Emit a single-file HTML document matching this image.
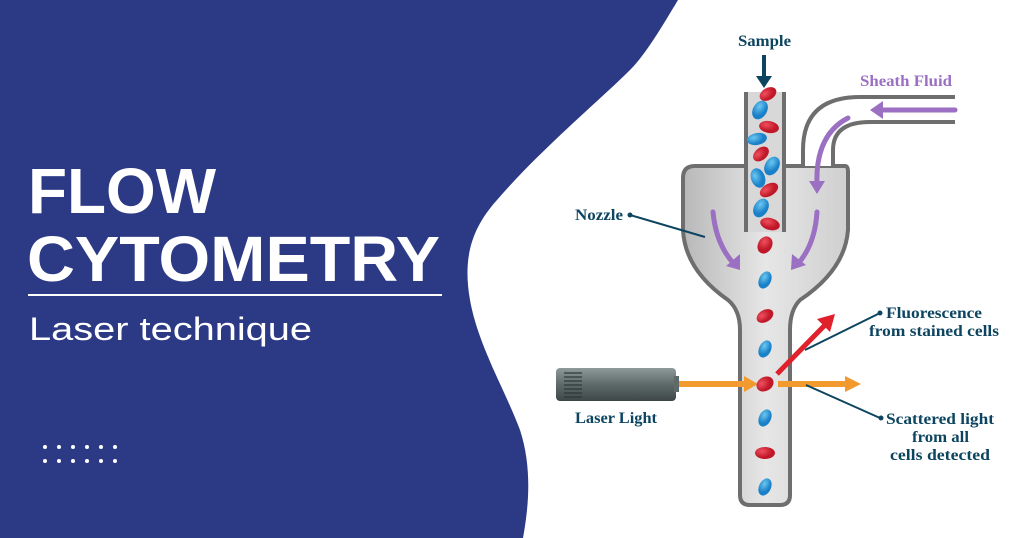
<!DOCTYPE html>
<html><head><meta charset="utf-8"><style>
html,body{margin:0;padding:0;width:1024px;height:538px;overflow:hidden;background:#fff}
svg{display:block}
.t{font-family:"Liberation Serif",serif;font-weight:bold;fill:#0d4560;font-size:15.5px}
.h{font-family:"Liberation Sans",sans-serif;font-weight:bold;fill:#fff}
</style></head><body>
<svg width="1024" height="538" viewBox="0 0 1024 538" xmlns="http://www.w3.org/2000/svg">
<defs>
<linearGradient id="g" x1="0" x2="1"><stop offset="0" stop-color="#b8b8b8"/><stop offset="0.5" stop-color="#e6e6e6"/><stop offset="1" stop-color="#cfcfcf"/></linearGradient>
<linearGradient id="las" x1="0" y1="0" x2="0" y2="1"><stop offset="0" stop-color="#8e9a9a"/><stop offset="0.5" stop-color="#5e6a6a"/><stop offset="1" stop-color="#3d4747"/></linearGradient>
<radialGradient id="r" cx="0.35" cy="0.35"><stop offset="0" stop-color="#f05060"/><stop offset="1" stop-color="#c01828"/></radialGradient>
<radialGradient id="b" cx="0.35" cy="0.35"><stop offset="0" stop-color="#6cc8f0"/><stop offset="1" stop-color="#1a80c8"/></radialGradient>
</defs>
<path d="M0 0 L678 0 C660 30 645 55 630 70 C600 100 540 150 497 200 C470 230 463 260 470 300 C478 345 505 390 520 430 C533 470 528 510 523 538 L0 538 Z" fill="#2c3a85"/>
<text class="h" x="28" y="213" font-size="64" textLength="188" lengthAdjust="spacingAndGlyphs">FLOW</text>
<text class="h" x="27" y="281" font-size="64" textLength="413" lengthAdjust="spacingAndGlyphs">CYTOMETRY</text>
<rect x="28" y="294" width="414" height="2" fill="#fff"/>
<text x="29" y="340" font-family="Liberation Sans,sans-serif" font-size="32" fill="#fff" textLength="283" lengthAdjust="spacingAndGlyphs">Laser technique</text>
<g fill="#fff">
<circle cx="45" cy="447" r="2"/><circle cx="59" cy="447" r="2"/><circle cx="73" cy="447" r="2"/><circle cx="87" cy="447" r="2"/><circle cx="101" cy="447" r="2"/><circle cx="115" cy="447" r="2"/>
<circle cx="45" cy="461" r="2"/><circle cx="59" cy="461" r="2"/><circle cx="73" cy="461" r="2"/><circle cx="87" cy="461" r="2"/><circle cx="101" cy="461" r="2"/><circle cx="115" cy="461" r="2"/>
</g>
<path d="M695 166 L845 166 Q848 166 848 172 L848 230 Q845 270 800 300 Q790 310 790 330 L790 495 Q790 505 780 505 L750 505 Q740 505 740 495 L740 330 Q740 310 728 300 Q685 270 683 230 L683 178 Q683 166 695 166 Z" fill="url(#g)" stroke="#6e6e6e" stroke-width="4"/>
<rect x="747" y="92" width="36" height="140" fill="#d8d8d8"/>
<line x1="746" y1="92" x2="746" y2="232" stroke="#6e6e6e" stroke-width="4"/>
<line x1="784" y1="92" x2="784" y2="232" stroke="#6e6e6e" stroke-width="4"/>
<path d="M803 166 L803 150 Q803 97 860 97 L955 97 L955 122 L870 122 Q833 122 833 150 L833 166 Z" fill="#fff"/>
<path d="M803 166 L803 150 Q803 97 860 97 L955 97" fill="none" stroke="#6e6e6e" stroke-width="4"/>
<path d="M833 166 L833 150 Q833 122 870 122 L955 122" fill="none" stroke="#6e6e6e" stroke-width="4"/>
<g stroke="#9b6fc2" stroke-width="5" fill="none" stroke-linecap="round">
<line x1="955" y1="110" x2="878" y2="110"/>
<path d="M848 118 Q815 135 817 185"/>
<path d="M713 212 Q716 245 735 265"/>
<path d="M817 212 Q815 245 797 265"/>
</g>
<g fill="#9b6fc2">
<path d="M870 110 L883 101 L883 119 Z"/>
<path d="M817 194 L809 181 L825 181 Z"/>
<path d="M740 270 L726 266 L740 254 Z"/>
<path d="M791 270 L792 254 L806 265 Z"/>
</g>
<g>
<ellipse cx="768" cy="94" rx="9" ry="6" fill="url(#r)" transform="rotate(-30 768 94)"/>
<ellipse cx="760" cy="110" rx="7" ry="10" fill="url(#b)" transform="rotate(30 760 110)"/>
<ellipse cx="769" cy="127" rx="10" ry="6" fill="url(#r)" transform="rotate(10 769 127)"/>
<ellipse cx="757" cy="139" rx="10" ry="6" fill="url(#b)" transform="rotate(-10 757 139)"/>
<ellipse cx="761" cy="154" rx="9" ry="6" fill="url(#r)" transform="rotate(-40 761 154)"/>
<ellipse cx="772" cy="166" rx="7" ry="10" fill="url(#b)" transform="rotate(30 772 166)"/>
<ellipse cx="758" cy="178" rx="7" ry="10" fill="url(#b)" transform="rotate(-20 758 178)"/>
<ellipse cx="769" cy="190" rx="10" ry="6" fill="url(#r)" transform="rotate(-30 769 190)"/>
<ellipse cx="761" cy="208" rx="7" ry="10" fill="url(#b)" transform="rotate(30 761 208)"/>
<ellipse cx="770" cy="224" rx="10" ry="6" fill="url(#r)" transform="rotate(15 770 224)"/>
<ellipse cx="765" cy="245" rx="7" ry="9" fill="url(#r)" transform="rotate(30 765 245)"/>
<ellipse cx="765" cy="280" rx="6" ry="9" fill="url(#b)" transform="rotate(25 765 280)"/>
<ellipse cx="765" cy="316" rx="9" ry="6" fill="url(#r)" transform="rotate(-30 765 316)"/>
<ellipse cx="765" cy="349" rx="6" ry="9" fill="url(#b)" transform="rotate(25 765 349)"/>
<ellipse cx="765" cy="418" rx="6" ry="9" fill="url(#b)" transform="rotate(25 765 418)"/>
<ellipse cx="765" cy="453" rx="10" ry="6" fill="url(#r)"/>
<ellipse cx="765" cy="487" rx="6" ry="9" fill="url(#b)" transform="rotate(25 765 487)"/>
</g>
<rect x="556" y="368" width="120" height="33" rx="4" fill="url(#las)"/>
<rect x="674" y="376" width="5" height="16" fill="#5e6a6a"/>
<g stroke="#2f3838" stroke-width="1.2">
<line x1="564" y1="373" x2="582" y2="373"/><line x1="564" y1="377" x2="582" y2="377"/><line x1="564" y1="381" x2="582" y2="381"/><line x1="564" y1="385" x2="582" y2="385"/><line x1="564" y1="389" x2="582" y2="389"/><line x1="564" y1="393" x2="582" y2="393"/><line x1="564" y1="397" x2="582" y2="397"/>
</g>
<rect x="679" y="381" width="68" height="6" fill="#f29a2e"/>
<path d="M744 376 L758 384 L744 392 Z" fill="#f29a2e"/>
<rect x="778" y="381" width="70" height="6" fill="#f29a2e"/>
<path d="M845 376 L861 384 L845 392 Z" fill="#f29a2e"/>
<ellipse cx="765" cy="384" rx="9" ry="7" fill="url(#r)" transform="rotate(-30 765 384)"/>
<line x1="777" y1="374" x2="825" y2="325" stroke="#e0202a" stroke-width="5"/>
<path d="M835 314 L830 332 L817 319 Z" fill="#e0202a"/>
<line x1="764" y1="55" x2="764" y2="78" stroke="#0d4560" stroke-width="4"/>
<path d="M756 76 L772 76 L764 88 Z" fill="#0d4560"/>
<g stroke="#0d4560" stroke-width="2">
<line x1="630" y1="215" x2="705" y2="237"/>
<line x1="880" y1="313" x2="805" y2="350"/>
<line x1="806" y1="385" x2="880" y2="418"/>
</g>
<g fill="#0d4560"><circle cx="630" cy="215" r="2.5"/><circle cx="880" cy="313" r="2.5"/><circle cx="881" cy="418" r="2.5"/></g>
<text class="t" x="738" y="46" textLength="53" lengthAdjust="spacingAndGlyphs">Sample</text>
<text class="t" x="860" y="86" style="fill:#9b6fc2" textLength="92" lengthAdjust="spacingAndGlyphs">Sheath Fluid</text>
<text class="t" x="575" y="220" textLength="48" lengthAdjust="spacingAndGlyphs">Nozzle</text>
<text class="t" x="575" y="423" textLength="82" lengthAdjust="spacingAndGlyphs">Laser Light</text>
<text class="t" x="886" y="318" textLength="96" lengthAdjust="spacingAndGlyphs">Fluorescence</text>
<text class="t" x="869" y="336" textLength="130" lengthAdjust="spacingAndGlyphs">from stained cells</text>
<text class="t" x="886" y="424" textLength="108" lengthAdjust="spacingAndGlyphs">Scattered light</text>
<text class="t" x="912" y="442" textLength="57" lengthAdjust="spacingAndGlyphs">from all</text>
<text class="t" x="890" y="460" textLength="100" lengthAdjust="spacingAndGlyphs">cells detected</text>
</svg>
</body></html>
